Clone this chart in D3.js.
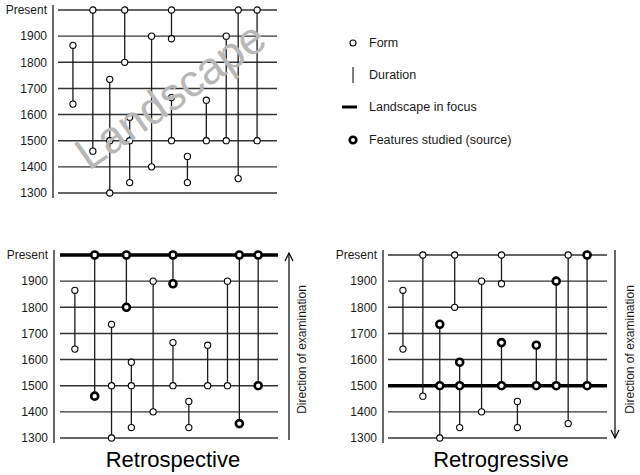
<!DOCTYPE html>
<html><head><meta charset="utf-8">
<script src="https://cdn.jsdelivr.net/npm/d3@7"></script>
<style>
html,body{margin:0;padding:0;background:#fff;}
svg{display:block;font-family:"Liberation Sans",Arial,sans-serif;}
</style></head>
<body>
<svg id="chart" width="640" height="475"></svg>
<script>
// ---- data ----
const tickYears = [2000, 1900, 1800, 1700, 1600, 1500, 1400, 1300];
const tickLabels = ["Present", "1900", "1800", "1700", "1600", "1500", "1400", "1300"];
// feature order (left-to-right sequence position of each form's duration)
const featureOrder = [1.5, 3.5, 5.2, 6.7, 7.2, 9.4, 11.4, 11.4, 13.0, 14.9, 16.9, 18.1, 20.0];
const formStart = [1865, 2000, 1735, 2000, 1590, 1900, 2000, 1665, 1440, 1655, 1900, 2000, 2000];
const formEnd   = [1640, 1460, 1300, 1800, 1340, 1400, 1890, 1500, 1340, 1500, 1500, 1355, 1500];
const formMid   = [null, null, 1500, null, 1500, null, null, null, null, null, null, null, null];
// features studied (source) : [feature index, year]
const studiedRetrospective = [[1,2000],[1,1460],[3,2000],[3,1800],[6,2000],[6,1890],[11,2000],[11,1355],[12,2000],[12,1500]];
const studiedRetrogressive = [[2,1735],[2,1500],[4,1590],[4,1500],[7,1665],[7,1500],[9,1655],[9,1500],[10,1900],[10,1500],[12,2000],[12,1500]];
const focusYears = [null, 2000, 1500];
const panelTitles = ["", "Retrospective", "Retrogressive"];
const legendLabels = ["Form", "Duration", "Landscape in focus", "Features studied (source)"];

const svg = d3.select("#chart");
const INK = "#1a1a1a";

const panels = [
  {x0:58, x1:277, yTop:10, yBot:193, axisX:53, studied:[], focus:focusYears[0], title:panelTitles[0]},
  {x0:60, x1:278, yTop:255, yBot:438, axisX:54, studied:studiedRetrospective, focus:focusYears[1], title:panelTitles[1],
   titleX:173, arrowX:289, arrowDir:"up", dirX:302},
  {x0:388, x1:607, yTop:255, yBot:438, axisX:383, studied:studiedRetrogressive, focus:focusYears[2], title:panelTitles[2],
   titleX:501, arrowX:615, arrowDir:"down", dirX:630}
];

panels.forEach((p, pi) => {
  const g = svg.append("g");
  const x = d3.scaleLinear().domain([0, 22]).range([p.x0, p.x1]);
  const y = d3.scaleLinear().domain([1300, 2000]).range([p.yBot, p.yTop]);

  // gridlines
  g.selectAll("line.grid").data(tickYears).join("line")
    .attr("class","grid")
    .attr("x1", p.x0).attr("x2", p.x1)
    .attr("y1", d => y(d)).attr("y2", d => y(d))
    .attr("stroke", "#333").attr("stroke-width", 1.4);

  // axis labels
  const axis = d3.axisLeft(y).tickValues(tickYears)
    .tickFormat((d,i) => tickLabels[i]).tickSize(0).tickPadding(0);
  const ag = g.append("g").attr("transform", `translate(${p.axisX - 6},0)`).call(axis);
  ag.select(".domain").remove();
  ag.selectAll("text").attr("font-size", 12).attr("fill", INK)
    .attr("font-family", '"Liberation Sans",Arial,sans-serif');
  // axis line
  g.append("line").attr("x1", p.axisX).attr("x2", p.axisX)
    .attr("y1", y(2000) - 5).attr("y2", y(1300) + 5)
    .attr("stroke", INK).attr("stroke-width", 1.3);

  // landscape in focus
  if (p.focus !== null) {
    g.append("line").attr("x1", p.x0).attr("x2", p.x1)
      .attr("y1", y(p.focus)).attr("y2", y(p.focus))
      .attr("stroke", "#000").attr("stroke-width", 3.5);
  }

  // durations
  g.selectAll("line.dur").data(featureOrder).join("line")
    .attr("class","dur")
    .attr("x1", d => x(d)).attr("x2", d => x(d))
    .attr("y1", (d,i) => y(formStart[i])).attr("y2", (d,i) => y(formEnd[i]))
    .attr("stroke", INK).attr("stroke-width", 1.3);

  // forms
  const pts = [];
  featureOrder.forEach((o,i) => {
    [formStart[i], formMid[i], formEnd[i]].forEach(v => {
      if (v === null) return;
      const bold = p.studied.some(s => s[0] === i && s[1] === v);
      pts.push({o, v, bold});
    });
  });
  g.selectAll("circle.form").data(pts).join("circle")
    .attr("class","form")
    .attr("cx", d => x(d.o)).attr("cy", d => y(d.v))
    .attr("r", d => d.bold ? 3.5 : 3.1)
    .attr("fill", "#fff").attr("stroke", "#000")
    .attr("stroke-width", d => d.bold ? 2.6 : 1.1);

  if (p.title) {
    g.append("text").attr("x", p.titleX).attr("y", 467)
      .attr("text-anchor","middle").attr("font-size", 22).attr("fill", "#000")
      .text(p.title);
    // arrow
    const ya = p.arrowDir === "up" ? [440, 253] : [250, 438];
    const dirSign = p.arrowDir === "up" ? 1 : -1;
    g.append("line").attr("x1", p.arrowX).attr("x2", p.arrowX)
      .attr("y1", ya[0]).attr("y2", ya[1]).attr("stroke", "#000").attr("stroke-width", 1.2);
    g.append("path")
      .attr("d", `M${p.arrowX-4},${ya[1] + 8*dirSign} L${p.arrowX},${ya[1]} L${p.arrowX+4},${ya[1] + 8*dirSign}`)
      .attr("fill","none").attr("stroke","#000").attr("stroke-width",1.2);
    g.append("text").attr("transform", `translate(${p.dirX},${(p.yTop+p.yBot)/2 + 3}) rotate(-90)`)
      .attr("text-anchor","middle").attr("dominant-baseline","central")
      .attr("font-size", 12).attr("fill", INK).text("Direction of examination");
  }

  if (pi === 0) {
    svg.append("text").attr("transform", "translate(89,171) rotate(-35)")
      .attr("font-size", 45).attr("fill", "#b8b8b8").text("Landscape");
  }
});

// legend
const lg = svg.append("g");
const legY = [43, 75, 107, 140];
lg.append("circle").attr("cx", 353).attr("cy", legY[0]).attr("r", 3).attr("fill","#fff")
  .attr("stroke","#000").attr("stroke-width",1.1);
lg.append("line").attr("x1",353).attr("x2",353).attr("y1",legY[1]-8).attr("y2",legY[1]+8)
  .attr("stroke","#555").attr("stroke-width",1.5);
lg.append("line").attr("x1",342).attr("x2",357).attr("y1",legY[2]).attr("y2",legY[2])
  .attr("stroke","#000").attr("stroke-width",3);
lg.append("circle").attr("cx", 353).attr("cy", legY[3]).attr("r", 3.3).attr("fill","#fff")
  .attr("stroke","#000").attr("stroke-width",2.6);
lg.selectAll("text").data(legendLabels).join("text")
  .attr("x", 369).attr("y", (d,i) => legY[i]).attr("dy","0.35em")
  .attr("font-size", 12.5).attr("fill", INK).text(d => d);
</script>
</body></html>
